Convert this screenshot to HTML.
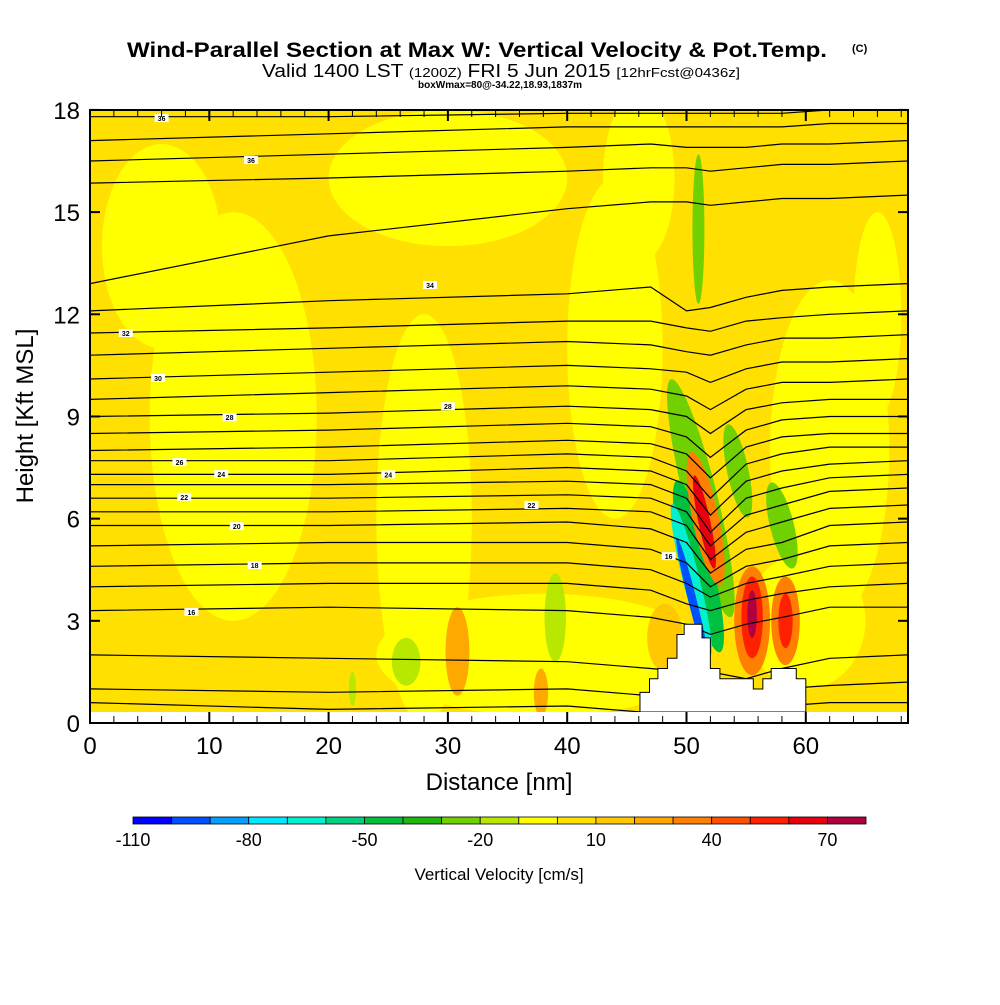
<!DOCTYPE html>
<html><head><meta charset="utf-8">
<style>
body{margin:0;background:#fff;width:1000px;height:1000px;overflow:hidden;font-family:"Liberation Sans",sans-serif}
svg text{font-family:"Liberation Sans",sans-serif}
</style></head>
<body>
<svg id="chart" width="1000" height="1000" viewBox="0 0 1000 1000">
<text x="127" y="57" font-size="21" font-weight="bold" textLength="700" lengthAdjust="spacingAndGlyphs">Wind-Parallel Section at Max W: Vertical Velocity &amp; Pot.Temp.</text>
<text x="852" y="52" font-size="11" font-weight="bold">(C)</text>
<text x="262" y="77" font-size="18" textLength="478" lengthAdjust="spacingAndGlyphs">Valid 1400 LST <tspan font-size="13">(1200Z)</tspan> FRI 5 Jun 2015 <tspan font-size="13">[12hrFcst@0436z]</tspan></text>
<text x="500" y="88" text-anchor="middle" font-size="10" font-weight="bold">boxWmax=80@-34.22,18.93,1837m</text>
<defs><clipPath id="pc"><rect x="90" y="110" width="818" height="602"/></clipPath></defs>
<g id="fills" clip-path="url(#pc)"></g>
<g id="lines" clip-path="url(#pc)"></g>
<g id="terrain"></g>
<g id="labels"></g>
<rect x="90" y="110" width="818" height="613" fill="none" stroke="#000" stroke-width="2"/>
<g id="axes"></g>
<text x="499" y="790" text-anchor="middle" font-size="24">Distance [nm]</text>
<text transform="translate(33,416) rotate(-90)" text-anchor="middle" font-size="24">Height [Kft MSL]</text>
<g id="cbar"></g>
<text x="499" y="880" text-anchor="middle" font-size="17">Vertical Velocity [cm/s]</text>
</svg>
<script>
const xTicks=[0,10,20,30,40,50,60];
const yTicks=[0,3,6,9,12,15,18];
const cbEdges=[-110,-100,-90,-80,-70,-60,-50,-40,-30,-20,-10,0,10,20,30,40,50,60,70,80];
const cbColors=["#0000ff","#0050ff","#00a0ff","#00e8ff","#00f0d0","#00d080","#00c040","#20b810","#70d000","#b8e800","#ffff00","#ffe000","#ffc800","#ffa800","#ff8000","#ff5000","#ff2000","#e80010","#b00040"];
const cbLabels=[-110,-80,-50,-20,10,40,70];
const contourX=[0,20,40,47,50,52,55,58,62,68.5];
const contourH=[
[17.8,17.8,17.9,17.9,17.9,17.9,17.9,17.9,18.0,18.0],
[17.1,17.3,17.5,17.5,17.5,17.5,17.5,17.5,17.6,17.6],
[16.5,16.7,16.9,17.0,16.9,16.9,16.9,17.0,17.0,17.1],
[15.85,16.0,16.2,16.3,16.3,16.2,16.3,16.4,16.4,16.5],
[12.9,14.3,15.1,15.3,15.3,15.2,15.3,15.4,15.4,15.5],
[12.1,12.4,12.6,12.8,12.1,12.2,12.5,12.7,12.8,12.9],
[11.45,11.6,11.8,11.8,11.6,11.5,11.8,11.9,12.0,12.1],
[10.8,11.0,11.2,11.1,10.9,10.8,11.1,11.3,11.3,11.4],
[10.1,10.3,10.5,10.4,10.3,10.0,10.4,10.6,10.6,10.7],
[9.5,9.7,9.9,9.8,9.6,9.2,9.8,10.0,10.0,10.1],
[9.0,9.1,9.3,9.2,9.0,8.5,9.2,9.4,9.5,9.5],
[8.5,8.6,8.8,8.7,8.4,7.8,8.6,8.9,9.0,9.0],
[8.0,8.1,8.3,8.2,7.9,7.2,8.1,8.4,8.5,8.5],
[7.7,7.7,7.9,7.8,7.4,6.6,7.6,7.9,8.1,8.1],
[7.3,7.3,7.5,7.4,7.0,6.1,7.1,7.4,7.6,7.7],
[7.0,7.0,7.1,7.0,6.6,5.6,6.6,6.9,7.2,7.3],
[6.6,6.6,6.7,6.6,6.2,5.2,6.1,6.4,6.8,6.9],
[6.2,6.2,6.3,6.2,5.8,4.8,5.6,5.9,6.3,6.4],
[5.8,5.8,5.9,5.7,5.3,4.4,5.1,5.3,5.8,5.9],
[5.2,5.3,5.3,5.1,4.7,4.0,4.6,4.8,5.2,5.3],
[4.6,4.7,4.7,4.5,4.1,3.7,4.1,4.3,4.6,4.7],
[4.0,4.1,4.1,3.9,3.5,3.3,3.6,3.8,4.0,4.1],
[3.3,3.4,3.3,3.1,2.9,2.6,2.9,3.1,3.4,3.4],
[2.0,1.9,1.8,1.6,1.5,1.5,1.3,1.6,1.9,2.0],
[1.0,0.9,1.0,0.8,0.6,0.6,0.6,1.0,1.1,1.2],
[0.6,0.4,0.5,0.3,0.3,0.3,0.3,0.5,0.6,0.6]];
const blobX=[12,6,28,44,62,38,30,46,60,66,51.2,51,50.4,50.5,51.6,51.5,55.5,55.5,55.5,58.3,58.3,54.3,58,51,39,26.5,30.8,37.8,22,48.2];
const blobH=[9,14,6,11,8,2,16,16,3,12,6.6,4.6,4.2,3.6,6.0,5.9,3.0,3.1,3.2,3.0,3.0,7.4,5.8,14.5,3.1,1.8,2.1,0.9,1.0,2.5];
const blobRX=[7,5,4,4,5,14,10,3,5,2,1.4,1.2,0.7,0.35,1.1,0.5,1.5,0.9,0.4,1.2,0.6,0.9,1.0,0.5,0.9,1.2,1.0,0.6,0.3,1.5];
const blobRH=[6,3,6,5,5,1.8,2,2.5,2,3,3.6,2.6,2.3,1.9,2.0,1.4,1.6,1.2,0.7,1.3,0.8,1.4,1.3,2.2,1.3,0.7,1.3,0.7,0.5,1.0];
const blobTilt=[0,0,0,0,0,0,0,0,0,0,-14,-14,-14,-14,-12,-12,0,0,0,0,0,-12,-14,0,0,0,0,0,0,0];
const blobV=[-5,-5,-5,-5,-5,-5,-5,-5,-5,-5,-30,-45,-65,-95,35,62,35,55,72,35,55,-25,-30,-25,-20,-20,25,25,-20,15];
const labelText=["36","36","34","32","30","28","26","24","22","20","18","16","28","24","22","16"];
const labelX=[6,13.5,28.5,3,5.7,11.7,7.5,11,7.9,12.3,13.8,8.5,30,25,37,48.5];
const labelH=[17.76,16.53,12.86,11.45,10.13,8.98,7.66,7.31,6.64,5.78,4.64,3.26,9.3,7.3,6.4,4.9];
const terrainX=[46.1,46.1,46.9,46.9,47.6,47.6,48.4,48.4,49.2,49.2,49.8,49.8,51.3,51.3,52,52,52.8,52.8,55.6,55.6,56.4,56.4,57.1,57.1,59.2,59.2,60,60];
const terrainH=[0.3,0.9,0.9,1.3,1.3,1.6,1.6,1.9,1.9,2.6,2.6,2.9,2.9,2.5,2.5,1.6,1.6,1.3,1.3,1.0,1.0,1.3,1.3,1.6,1.6,1.3,1.3,0.6];

const NS="http://www.w3.org/2000/svg";
const X=d=>90+d*11.93, Y=h=>723-h*34.06;
function col(v){for(let i=0;i<cbColors.length;i++){if(v<cbEdges[i+1])return cbColors[i];}return cbColors[cbColors.length-1];}
function mk(t,a,p){const e=document.createElementNS(NS,t);for(const k in a)e.setAttribute(k,a[k]);p.appendChild(e);return e;}
const fills=document.getElementById('fills');
const bg=mk('rect',{x:90,y:110,width:818,height:613,fill:col(5)},fills);


blobX.forEach((bx,i)=>{
  const e=mk('ellipse',{cx:X(bx),cy:Y(blobH[i]),rx:blobRX[i]*11.93,ry:blobRH[i]*34.06,fill:col(blobV[i]),transform:`rotate(${blobTilt[i]} ${X(bx)} ${Y(blobH[i])})`},fills);
  
  
});
const lines=document.getElementById('lines');
contourH.forEach((row,i)=>{
  const pts=row.map((h,j)=>X(contourX[j]).toFixed(1)+','+Y(h).toFixed(1)).join(' ');
  const p=mk('polyline',{points:pts,fill:'none',stroke:'#000','stroke-width':1.2},lines);
  
  
});
const ter=document.getElementById('terrain');
let tp=terrainX.map((x,i)=>X(x)+','+Y(terrainH[i]));
tp.push(X(60)+',712',X(46.1)+',712');
const tpoly=mk('polygon',{points:tp.join(' '),fill:'#fff',stroke:'#000','stroke-width':1},ter);


const strip=mk('rect',{x:90,y:712,width:818,height:11,fill:'#fff'},ter);


const lab=document.getElementById('labels');
labelText.forEach((t,i)=>{
  const g=mk('g',{},lab);
  
  
  mk('rect',{x:X(labelX[i])-7,y:Y(labelH[i])-4,width:14,height:8,fill:'#fff'},g);
  const tx=mk('text',{x:X(labelX[i]),y:Y(labelH[i])+3,'text-anchor':'middle','font-size':7,'font-weight':'bold'},g);tx.textContent=t;
});
const ax=document.getElementById('axes');
for(let d=0;d<=68;d+=2){
  const major=d%10===0;
  mk('line',{x1:X(d),x2:X(d),y1:723,y2:major?712:716,stroke:'#000','stroke-width':major?2:1},ax);
  mk('line',{x1:X(d),x2:X(d),y1:110,y2:major?121:117,stroke:'#000','stroke-width':major?2:1},ax);
}
xTicks.forEach(t=>{
  const e=mk('text',{x:X(t),y:754,'text-anchor':'middle','font-size':24},ax);e.textContent=t;
  
  
});
yTicks.forEach(t=>{
  mk('line',{x1:90,x2:100,y1:Y(t),y2:Y(t),stroke:'#000','stroke-width':2},ax);
  mk('line',{x1:898,x2:908,y1:Y(t),y2:Y(t),stroke:'#000','stroke-width':2},ax);
  const e=mk('text',{x:80,y:Y(t)+9,'text-anchor':'end','font-size':24},ax);e.textContent=t;
  
  
});
const cb=document.getElementById('cbar');
const cbX=v=>133+(v+110)*(733/190);
cbColors.forEach((c,i)=>{
  const r=mk('rect',{x:cbX(cbEdges[i]),y:817,width:cbX(cbEdges[i+1])-cbX(cbEdges[i]),height:7,fill:c,stroke:'#000','stroke-width':0.8},cb);
  
  
});
cbLabels.forEach(v=>{
  const e=mk('text',{x:cbX(v),y:846,'text-anchor':'middle','font-size':18},cb);e.textContent=v;
  
  
});
</script>
</body></html>
